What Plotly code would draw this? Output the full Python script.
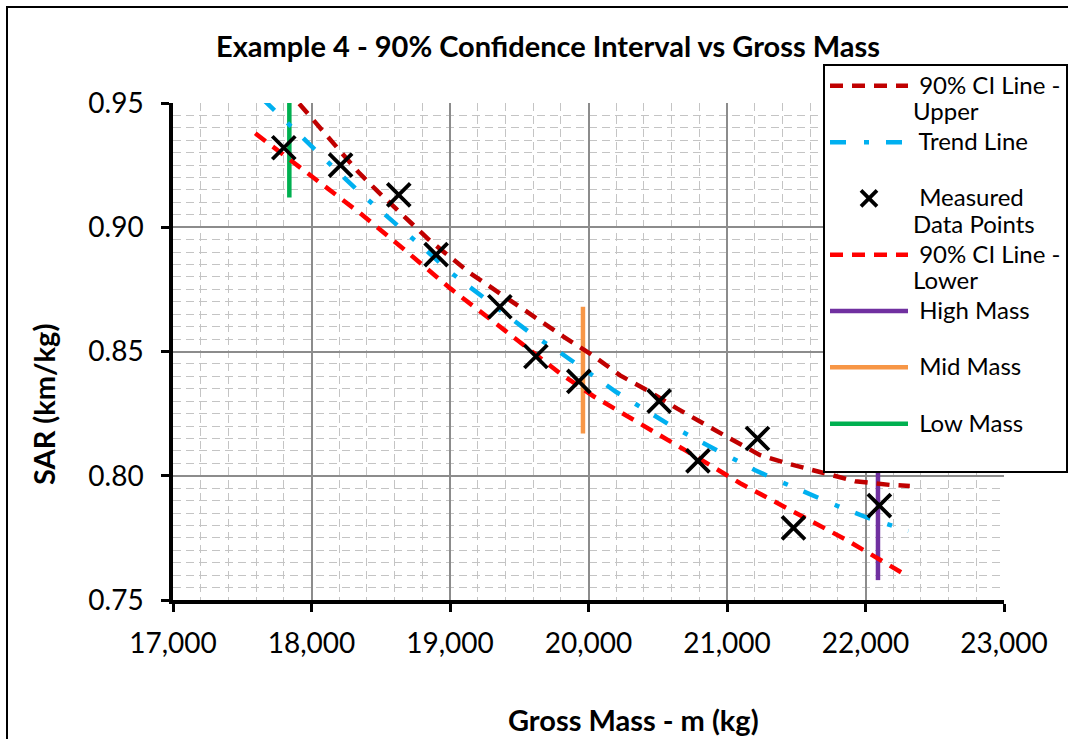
import plotly.graph_objects as go

# ---------------- data ----------------
mass_measured = [17800, 18210, 18630, 18900, 19360, 19620, 19930, 20510, 20790, 21220, 21480, 22100]
sar_measured = [0.932, 0.925, 0.913, 0.889, 0.868, 0.848, 0.838, 0.830, 0.806, 0.815, 0.779, 0.788]

trend_mass = [17650, 17800, 18000, 18200, 18400, 18600, 18800, 19000, 19200, 19400, 19600, 19800,
              20000, 20200, 20400, 20600, 20800, 21000, 21200, 21400, 21600, 21800, 22000, 22200, 22310]
trend_sar = [0.9515, 0.9434, 0.9321, 0.9218, 0.9114, 0.9020, 0.8921, 0.8820, 0.8736, 0.8650, 0.8566, 0.8494,
             0.8418, 0.8337, 0.8268, 0.8200, 0.8140, 0.8082, 0.8023, 0.7973, 0.7924, 0.7878, 0.7834, 0.7798, 0.7778]

upper_mass = [17600, 17905, 18186, 18338, 18482, 18857, 19146, 19375, 19579, 19819, 20036, 20228,
              20421, 20638, 20999, 21239, 21432, 21744, 21925, 22177, 22320]
upper_sar = [0.9698, 0.9504, 0.9319, 0.9222, 0.9142, 0.8945, 0.8815, 0.8727, 0.8647, 0.8560, 0.8482, 0.8404,
             0.8345, 0.8271, 0.8157, 0.8083, 0.8050, 0.8003, 0.7978, 0.7963, 0.7959]

lower_mass = [17594, 17800, 18000, 18352, 18700, 19002, 19400, 19795, 20036, 20373, 20700, 21095,
              21500, 21865, 22298]
lower_sar = [0.9378, 0.9290, 0.9205, 0.9056, 0.8896, 0.8754, 0.8583, 0.8412, 0.8320, 0.8211, 0.8102, 0.7970,
             0.7850, 0.7741, 0.7598]

low_mass_x = [17840, 17840]
low_mass_sar = [0.912, 0.970]
mid_mass_x = [19960, 19960]
mid_mass_sar = [0.817, 0.868]
high_mass_x = [22090, 22090]
high_mass_sar = [0.758, 0.805]

x_tick_vals = [17000, 18000, 19000, 20000, 21000, 22000, 23000]
y_tick_vals = [0.75, 0.80, 0.85, 0.90, 0.95]

FONT = "Lato, 'Open Sans', sans-serif"


def lg(first, second):
    return ("<span style='font-size:24px'>\u00a0" + first + "</span><br>"
            "<span style='font-size:24px'>" + second + "</span>")


fig = go.Figure()

fig.add_trace(go.Scatter(x=low_mass_x, y=low_mass_sar, mode="lines", name=lg("Low Mass", "\u00a0"),
                         line=dict(color="#00B050", width=4.5), legendrank=7))
fig.add_trace(go.Scatter(x=mid_mass_x, y=mid_mass_sar, mode="lines", name=lg("Mid Mass", "\u00a0"),
                         line=dict(color="#F79646", width=4.5), legendrank=6))
fig.add_trace(go.Scatter(x=high_mass_x, y=high_mass_sar, mode="lines", name=lg("High Mass", "\u00a0"),
                         line=dict(color="#7030A0", width=4.5), legendrank=5))
fig.add_trace(go.Scatter(x=lower_mass, y=lower_sar, mode="lines", name=lg("90% CI Line -", "Lower"),
                         line=dict(color="#FF0000", width=4.5, dash="13px,9px"), legendrank=4))
fig.add_trace(go.Scatter(x=upper_mass, y=upper_sar, mode="lines", name=lg("90% CI Line -", "Upper"),
                         line=dict(color="#C00000", width=4.5, dash="13px,9px"), legendrank=1))
fig.add_trace(go.Scatter(x=trend_mass, y=trend_sar, mode="lines", name=lg("Trend Line", "\u00a0"),
                         line=dict(color="#00B0F0", width=4.5, dash="16px,18px,5px,17px"), legendrank=2))
fig.add_trace(go.Scatter(x=mass_measured, y=sar_measured, mode="markers", name=lg("Measured", "Data Points"),
                         marker=dict(symbol="x-thin", size=23, color="black",
                                     line=dict(color="black", width=3.8)), legendrank=3))

W, H = 1068, 739
L, R, T, B = 173, 64, 103, 139
pw, ph = W - L - R, H - T - B


def px2paper_x(px):
    return (px - L) / pw


def px2paper_y(py):
    return (H - B - py) / ph


axis_common = dict(
    showgrid=True, gridcolor="#8c8c8c", gridwidth=1.5,
    showline=True, linecolor="black", linewidth=3.5,
    ticks="outside", ticklen=8, tickwidth=3, tickcolor="black",
    tickfont=dict(family=FONT, size=28, color="black"),
    zeroline=False,
)

fig.update_layout(
    width=W, height=H,
    margin=dict(l=L, r=R, t=T, b=B, autoexpand=False),
    paper_bgcolor="white", plot_bgcolor="white",
    title=dict(text="<b>Example 4 - 90% Confidence Interval vs Gross Mass</b>",
               x=px2paper_x(548), xref="paper", xanchor="center",
               y=1 - 47 / H, yref="container", yanchor="middle",
               font=dict(family=FONT, size=29, color="black")),
    xaxis=dict(range=[17000, 23000], tickvals=x_tick_vals, tickformat=",d",
               minor=dict(dtick=200, tick0=17000, showgrid=True, gridcolor="#c4c4c4",
                          gridwidth=1.3, griddash="8px,5px"),
               ticklabelstandoff=8, **axis_common),
    yaxis=dict(range=[0.75, 0.95], tickvals=y_tick_vals, tickformat=".2f",
               minor=dict(dtick=0.005, tick0=0.75, showgrid=True, gridcolor="#c4c4c4",
                          gridwidth=1.3, griddash="8px,5px"),
               ticklabelstandoff=12, **axis_common),
    showlegend=True,
    legend=dict(x=px2paper_x(823), y=px2paper_y(64), xanchor="left", yanchor="top",
                bgcolor="white", bordercolor="black", borderwidth=2,
                font=dict(family=FONT, size=20.5, color="black"),
                itemwidth=78, valign="top", traceorder="normal", tracegroupgap=0,
                maxheight=700),
    annotations=[
        dict(text="<b>SAR (km/kg)</b>", xref="paper", yref="paper",
             x=px2paper_x(43), y=px2paper_y(405), xanchor="center", yanchor="middle",
             textangle=-90, showarrow=False, font=dict(family=FONT, size=29, color="black")),
        dict(text="<b>Gross Mass - m (kg)</b>", xref="paper", yref="paper",
             x=px2paper_x(633), y=px2paper_y(719), xanchor="center", yanchor="middle",
             showarrow=False, font=dict(family=FONT, size=29, color="black")),
    ],
    shapes=[
        dict(type="rect", xref="paper", yref="paper",
             x0=px2paper_x(7), x1=px2paper_x(1080), y0=px2paper_y(760), y1=px2paper_y(7),
             line=dict(color="black", width=2), fillcolor="rgba(0,0,0,0)", layer="below"),
    ],
)

fig.write_html("out.html", config={"displayModeBar": False},
               post_script="document.body.style.margin='0';document.body.style.overflow='hidden';")
